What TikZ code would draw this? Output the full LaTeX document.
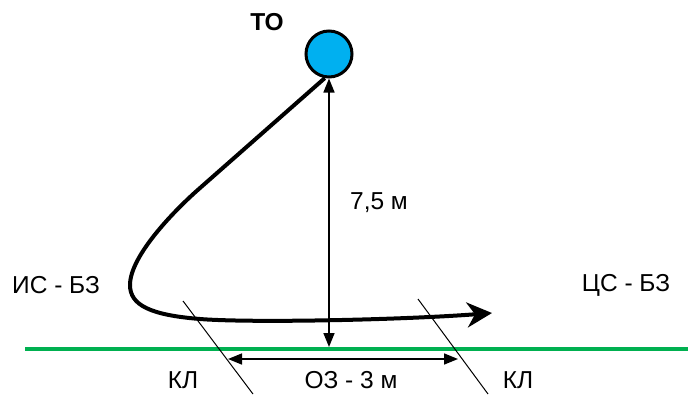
\documentclass[tikz,border=0pt]{standalone}
\usepackage{fontspec}
\setmainfont{Liberation Sans}
\usetikzlibrary{positioning,arrows.meta}
\definecolor{objcyan}{RGB}{0,176,240}
\definecolor{zonegreen}{RGB}{0,176,80}

\begin{document}
\begin{tikzpicture}[
  x=1pt, y=-1pt,
  lbl/.style={font=\fontsize{24.5}{28}\selectfont, inner sep=0pt},
  obj/.style={circle, draw, fill=objcyan, line width=3pt, minimum size=46pt, inner sep=0pt},
  route/.style={line width=4pt, -{Stealth[length=25pt, width=25pt, inset=8pt]}},
  dim/.style={line width=1.6pt, {Triangle[length=14pt, width=11pt]}-{Triangle[length=14pt, width=11pt]}},
  kl/.style={line width=1pt},
  ground/.style={line width=4pt, zonegreen},
]
  \useasboundingbox (0,0) rectangle (688,394);

  % Object and ground line
  \node[obj] (to) at (329,54) {};
  \node[lbl, font=\fontsize{24.5}{28}\selectfont\bfseries] (tolbl) at (267,22) {ТО};
  \coordinate (gl) at (25,349);
  \coordinate (gr) at (688,349);
  \draw[ground] (gl) -- (gr);

  % Distance to object
  \coordinate (gc) at (to.south |- 0,347);
  \draw[dim] (to.south) -- (gc);
  \node[lbl] (dist) at (379,203) {7,5 м};

  % Zone width
  \coordinate (oza) at (228,359);
  \coordinate (ozb) at (458,359);
  \draw[dim] (oza) -- (ozb);
  \node[lbl] (oz) at (351,380) {ОЗ - 3 м};

  % Control lines
  \coordinate (kla) at (183,301);
  \coordinate (klb) at (253,394);
  \coordinate (klc) at (418,299);
  \coordinate (kld) at (488,394);
  \draw[kl] (kla) -- (klb);
  \draw[kl] (klc) -- (kld);
  \node[lbl] (kl1) at (183,380) {КЛ};
  \node[lbl] (kl2) at (518,380) {КЛ};

  % Route
  \coordinate (mid) at (200,188);
  \coordinate (turn) at (130,285);
  \coordinate (low) at (200,319);
  \coordinate (fin) at (492,313);
  \draw[route, line join=round] (to.260) -- (mid)
    .. controls (177,208) and (130,255) .. (turn)
    .. controls (130,305) and (150,315) .. (low)
    .. controls (250,323) and (400,320) .. (fin);
  \node[lbl] (start) at (56,285) {ИС - БЗ};
  \node[lbl] (target) at (626,285) {ЦС - БЗ};
\end{tikzpicture}
\end{document}
